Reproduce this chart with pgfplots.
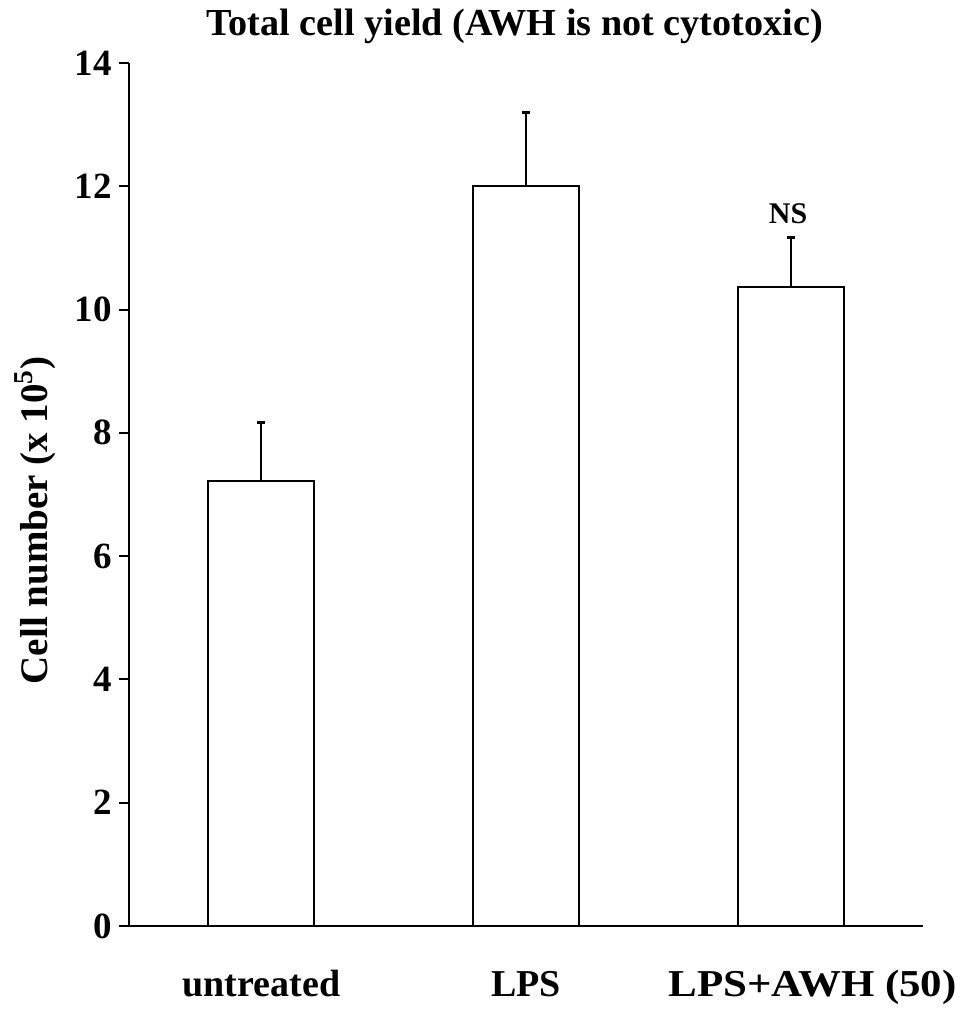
\documentclass[border=0pt]{standalone}
\usepackage{pgfplots}
\pgfplotsset{compat=1.18}
\usepackage{graphicx}
\usepackage{fontspec}
\setmainfont{Liberation Serif}
\begin{document}
\begin{tikzpicture}
\begin{axis}[
  name=ax,
  scale only axis,
  width=397pt, height=431.5pt,
  xmin=-0.5, xmax=2.5,
  ymin=0, ymax=14,
  axis x line*=bottom,
  axis y line*=left,
  axis line style={line width=1pt, black},
  ytick={0,2,...,14},
  ytick align=outside,
  major tick length=5pt,
  ytick style={line width=1pt, black},
  xtick={0,1,2},
  xticklabels={untreated, LPS, \hspace*{22pt}\scalebox{1.13}[1]{LPS+AWH (50)}},
  x tick style={draw=none},
  extra x ticks={0.5,1.5,2.5},
  extra x tick labels={},
  extra x tick style={tick align=outside, major tick length=6pt, tick style={line width=1pt, black, draw=black}},
  /pgf/number format/assume math mode=true,
  yticklabel style={font=\fontsize{18.5}{22}\selectfont\bfseries, anchor=east, xshift=0pt},
  xticklabel style={font=\fontsize{19}{22}\selectfont\bfseries, anchor=base, yshift=-35pt},
  clip=false,
]
\addplot[ybar, bar width=0.4, fill=white, draw=black, line width=1pt,
  error bars/.cd, y dir=plus, y explicit, error mark=|,
  error bar style={line width=1pt, black},
  error mark options={line width=1.6pt, mark size=2pt, black}]
  coordinates {
  (0,7.22) +- (0,0.95)
  (1,12.00) +- (0,1.20)
  (2,10.37) +- (0,0.80)
};
\node[font=\fontsize{15}{18}\selectfont\bfseries, anchor=base] at (axis cs:1.99,11.19) [yshift=6.5pt] {NS};
\node[font=\fontsize{19.1}{22}\selectfont\bfseries, anchor=base] at (rel axis cs:0.486,1) [yshift=13.5pt] {Total cell yield (AWH is not cytotoxic)};
\path (rel axis cs:0,0.47) ++(-40.5pt,0pt) node[font=\fontsize{19.5}{22}\selectfont\bfseries, anchor=base, rotate=90] {Cell number (x 10\textsuperscript{5})};
\end{axis}
\pgfresetboundingbox
\path[use as bounding box] ([xshift=-64.5pt,yshift=-42pt]ax.south west) rectangle ([xshift=19pt,yshift=31.5pt]ax.north east);
\end{tikzpicture}
\end{document}
